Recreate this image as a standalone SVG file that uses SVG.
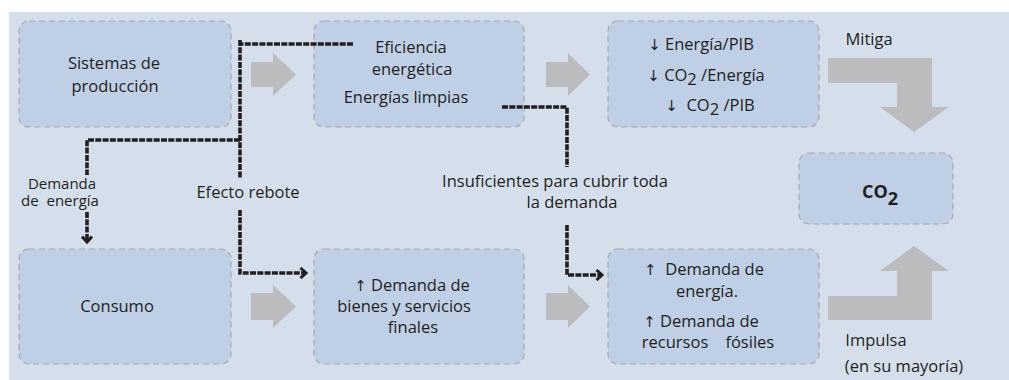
<svg xmlns="http://www.w3.org/2000/svg" width="1009" height="380" viewBox="0 0 1009 380">
<defs>
<style>
.bg{fill:#d5dfec}
.box{fill:#bfd0e6;stroke:#a8a8a8;stroke-width:1.2;stroke-dasharray:6 4}
.ga{fill:#bcbcbe}
.t{font-family:"Open Sans","Liberation Sans",sans-serif;font-size:16.5px;fill:#231f20;text-anchor:middle;white-space:pre}
.ar{font-family:"DejaVu Sans",sans-serif;font-size:15px}
.b{font-weight:bold;font-size:18px}
.sm{font-size:15px}
.con{fill:none;stroke:#231f20;stroke-width:3.6;stroke-dasharray:6 1.3}
</style>
<marker id="ah" markerWidth="12" markerHeight="12" refX="7" refY="6" orient="auto" markerUnits="userSpaceOnUse">
<path d="M1.5,1 L7,6 L1.5,11" fill="none" stroke="#231f20" stroke-width="3"/>
</marker>
</defs>
<rect class="bg" x="9" y="12" width="1000" height="368"/>

<g id="gray-arrows">
<polygon class="ga" points="251,62 273,62 273,53 296,74.5 273,96 273,87 251,87"/>
<polygon class="ga" points="546,62 568,62 568,53 590,74.5 568,96 568,87 546,87"/>
<polygon class="ga" points="251,293 273,293 273,285 296,306.5 273,328 273,320 251,320"/>
<polygon class="ga" points="546,293 568,293 568,285 590,306.5 568,328 568,320 546,320"/>
<polygon class="ga" points="828,58 932,58 932,107 949,107 914,132 880,107 897,107 897,83 828,83"/>
<polygon class="ga" points="828,320 932,320 932,271 949,271 914,246 880,271 897,271 897,296 828,296"/>
</g>

<g id="n-sistemas">
<rect class="box" x="19" y="21" width="212" height="106" rx="10"/>
<text class="t" x="114" y="69">Sistemas de</text>
<text class="t" x="115" y="92">producción</text>
</g>
<g id="n-eficiencia">
<rect class="box" x="314" y="21" width="210" height="106" rx="10"/>
<text class="t" x="411" y="53">Eficiencia</text>
<text class="t" x="412" y="75">energética</text>
<text class="t" x="406" y="103">Energías limpias</text>
</g>
<g id="n-indicadores">
<rect class="box" x="608" y="21" width="211" height="106" rx="10"/>
<text class="t" x="701" y="50"><tspan class="ar">↓</tspan> Energía/PIB</text>
<text class="t" x="706" y="81"><tspan class="ar">↓</tspan> CO<tspan dy="4">2</tspan><tspan dy="-4"> /Energía</tspan></text>
<text class="t" x="710" y="111"><tspan class="ar">↓</tspan>  CO<tspan dy="4">2</tspan><tspan dy="-4"> /PIB</tspan></text>
</g>
<g id="n-co2">
<rect class="box" x="799" y="153" width="154" height="71" rx="10"/>
<text class="t b" x="880" y="198">CO<tspan dy="7">2</tspan></text>
</g>
<g id="n-consumo">
<rect class="box" x="19" y="249" width="212" height="115" rx="10"/>
<text class="t" x="117" y="312">Consumo</text>
</g>
<g id="n-bienes">
<rect class="box" x="314" y="249" width="210" height="115" rx="10"/>
<text class="t" x="412" y="291"><tspan class="ar">↑</tspan> Demanda de</text>
<text class="t" x="404" y="312">bienes y servicios</text>
<text class="t" x="413" y="333">finales</text>
</g>
<g id="n-demanda-energia">
<rect class="box" x="608" y="249" width="211" height="115" rx="10"/>
<text class="t" x="704" y="275"><tspan class="ar">↑</tspan>  Demanda de</text>
<text class="t" x="707" y="297">energía.</text>
<text class="t" x="701" y="327"><tspan class="ar">↑</tspan> Demanda de</text>
<text class="t" x="708" y="348">recursos    fósiles</text>
</g>

<g id="connectors">
<path class="con" d="M353,44 H240 M240,40 V178"/>
<path class="con" d="M240,140 H87 V175"/>
<path class="con" d="M87,212 V242" marker-end="url(#ah)"/>
<path class="con" d="M240,210 V273 H306" marker-end="url(#ah)"/>
<path class="con" d="M502,107 H567 V167"/>
<path class="con" d="M567,225 V275 H602" marker-end="url(#ah)"/>
</g>

<g id="labels">
<text class="t" x="869" y="45">Mitiga</text>
<text class="t sm" x="62" y="189">Demanda</text>
<text class="t sm" x="60" y="206">de  energía</text>
<text class="t" x="248" y="198">Efecto rebote</text>
<text class="t" x="555" y="187">Insuficientes para cubrir toda</text>
<text class="t" x="572" y="208">la demanda</text>
<text class="t" x="876" y="346">Impulsa</text>
<text class="t" x="904" y="372">(en su mayoría)</text>
</g>
</svg>
